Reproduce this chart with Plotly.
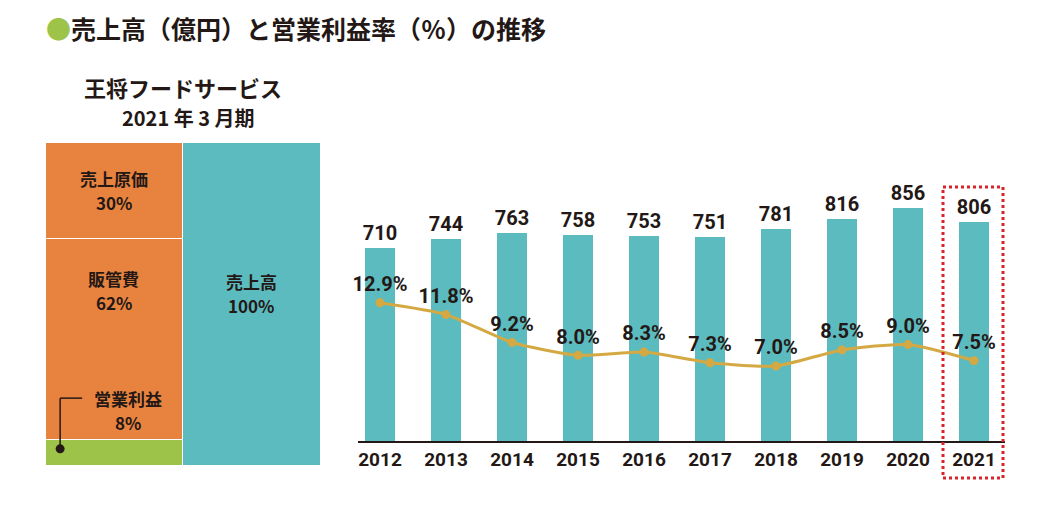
import plotly.graph_objects as go

# ---- data ----
years = ["2012", "2013", "2014", "2015", "2016", "2017", "2018", "2019", "2020", "2021"]
sales = [710, 744, 763, 758, 753, 751, 781, 816, 856, 806]          # 売上高（億円）
margin = [12.9, 11.8, 9.2, 8.0, 8.3, 7.3, 7.0, 8.5, 9.0, 7.5]       # 営業利益率（%）

cogs_pct = 30      # 売上原価
sga_pct = 62       # 販管費
op_pct = 8         # 営業利益
sales_pct = 100    # 売上高

TEAL = "#5BBBBF"
ORANGE = "#E8833F"
GREEN = "#9DC348"
GOLD = "#D4A943"
RED = "#D9232A"
INK = "#231815"
JP = "Noto Sans CJK JP"
NUM = "Roboto, sans-serif"

# page is offset by the 8px body margin
OFF = 8
W, H = 1040 - 2 * OFF, 506 - 2 * OFF
def px_x(p): return (p - OFF) / W
def px_y(p): return 1 - (p - OFF) / H

fig = go.Figure()

# main bars
fig.add_trace(go.Bar(
    x=years, y=sales, width=0.44, marker=dict(color=TEAL, line=dict(width=0)),
    text=[str(v) for v in sales], textposition="outside", constraintext="none",
    textfont=dict(family=NUM, size=20, color=INK, weight="bold"),
    cliponaxis=False, xaxis="x", yaxis="y", showlegend=False, hoverinfo="skip"))

# margin line
fig.add_trace(go.Scatter(
    x=years, y=margin, mode="lines+markers+text",
    line=dict(color=GOLD, width=3, shape="spline", smoothing=0.6),
    marker=dict(color=GOLD, size=9),
    text=[f"{v:.1f}%" for v in margin], textposition="top center",
    textfont=dict(family=NUM, size=20, color=INK, weight="bold"),
    cliponaxis=False, xaxis="x", yaxis="y2", showlegend=False, hoverinfo="skip"))

# left block (stacked)
for val, col, name in [(op_pct, GREEN, "営業利益"), (sga_pct, ORANGE, "販管費"), (cogs_pct, ORANGE, "売上原価")]:
    fig.add_trace(go.Bar(
        x=[0], y=[val], width=1, marker=dict(color=col, line=dict(color="white", width=1)),
        xaxis="x3", yaxis="y3", showlegend=False, hoverinfo="skip", name=name))
fig.add_trace(go.Bar(
    x=[1], y=[sales_pct], width=1, marker=dict(color=TEAL, line=dict(color="white", width=1)),
    xaxis="x3", yaxis="y3", showlegend=False, hoverinfo="skip", name="売上高"))

# profit dot
fig.add_trace(go.Scatter(
    x=[-0.39], y=[op_pct / 2 + 1], mode="markers", marker=dict(color=INK, size=9),
    xaxis="x3", yaxis="y3", showlegend=False, hoverinfo="skip", cliponaxis=False))

ann = []
lab_font = dict(family=JP, size=17, color=INK, weight="bold")
def block_label(x, y, name, pct):
    ann.append(dict(x=x, y=y, xref="x3", yref="y3", yshift=12, text=name,
                    showarrow=False, font=lab_font))
    ann.append(dict(x=x, y=y, xref="x3", yref="y3", yshift=-12, text=f"{pct}%",
                    showarrow=False, font=lab_font))

block_label(0, op_pct + sga_pct + cogs_pct / 2, "売上原価", cogs_pct)
block_label(0, 54, "販管費", sga_pct)
block_label(1, 53, "売上高", sales_pct)
block_label(0.1, 17, "営業利益", op_pct)

# title
ann.append(dict(x=px_x(44), y=px_y(28), xref="paper", yref="paper", xanchor="left", yanchor="middle",
                text=f"<span style='color:{GREEN}'>●</span>売上高（億円）と営業利益率（％）の推移",
                showarrow=False, font=dict(family=JP, size=25, color=INK, weight="bold")))
# subtitle
ann.append(dict(x=px_x(183), y=px_y(87), xref="paper", yref="paper", xanchor="center", yanchor="middle",
                text="王将フードサービス", showarrow=False,
                font=dict(family=JP, size=22, color=INK, weight="bold")))
ann.append(dict(x=px_x(188), y=px_y(117), xref="paper", yref="paper", xanchor="center", yanchor="middle",
                text="2021 年 3 月期", showarrow=False,
                font=dict(family=JP, size=20, color=INK, weight="bold")))

shapes = [
    # callout line
    dict(type="line", xref="x3", yref="y3", x0=-0.39, x1=-0.23, y0=20.7, y1=20.7,
         line=dict(color=INK, width=1.5)),
    dict(type="line", xref="x3", yref="y3", x0=-0.39, x1=-0.39, y0=20.7, y1=op_pct / 2 + 1,
         line=dict(color=INK, width=1.5)),
    # dotted highlight box around 2021
    dict(type="rect", xref="paper", yref="paper", x0=px_x(943), x1=px_x(1003), y0=px_y(478), y1=px_y(187),
         line=dict(color=RED, width=3, dash="dot"), fillcolor="rgba(0,0,0,0)"),
]

fig.update_layout(
    width=W, height=H, margin=dict(l=0, r=0, t=0, b=0),
    paper_bgcolor="white", plot_bgcolor="white",
    barmode="stack", showlegend=False,
    annotations=ann, shapes=shapes,
    xaxis=dict(domain=[px_x(358), px_x(1005)], type="category", range=[-0.333, 9.47],
               showline=True, linecolor=INK, linewidth=1.5, showgrid=False, zeroline=False, ticks="",
               tickfont=dict(family=NUM, size=19, color=INK, weight="bold")),
    yaxis=dict(domain=[px_y(441), px_y(141)], range=[0, 1103], visible=False, showgrid=False),
    yaxis2=dict(overlaying="y", range=[0, 28], visible=False, showgrid=False),
    xaxis3=dict(domain=[px_x(45), px_x(320)], range=[-0.5, 1.5], visible=False, anchor="y3"),
    yaxis3=dict(domain=[px_y(465), px_y(142)], range=[0, 100], visible=False, anchor="x3"),
)

fig.write_html("out.html")
